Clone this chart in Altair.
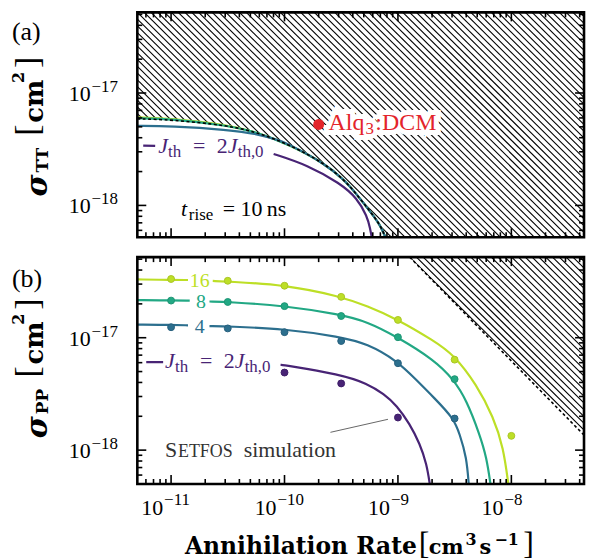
import altair as alt
import pandas as pd

# ---------------- data ----------------
X_DOMAIN = [5.04e-12, 4.37e-8]
YA_DOMAIN = [5.21e-19, 5.21e-17]
YB_DOMAIN = [5.0e-19, 5.21e-17]
Y_FLOOR = 1e-20  # lower edge of the white cover polygons (below both panels)

# panel (a): upper bound (dashed) of the hatched, forbidden region
a_bound_x = [5.04e-12, 1.0e-11, 3.16e-11, 5.79e-11, 1.13e-10, 2.24e-10, 3.36e-10, 4.37e-10,
             5.68e-10, 6.95e-10, 7.69e-10, 8.02e-10]
a_bound_y = [5.89e-18, 5.79e-18, 5.15e-18, 4.46e-18, 3.44e-18, 2.37e-18, 1.69e-18, 1.24e-18,
             8.85e-19, 6.75e-19, 5.32e-19, 4.8e-19]
a_j16_y_start = [6.07e-18, 5.94e-18, 5.19e-18]
a_j8_y_start = [5.97e-18, 5.89e-18, 5.15e-18]
a_j4_x_start = [5.04e-12, 1.0e-11, 3.16e-11, 5.79e-11, 9.23e-11]
a_j4_y_start = [5.11e-18, 5.08e-18, 4.71e-18, 4.33e-18, 3.77e-18]
a_j2_seg1_x = [5.68e-12, 7.24e-12]
a_j2_seg1_y = [3.40e-18, 3.38e-18]
a_j2_seg2_x = [8.02e-11, 1.59e-10, 3.10e-10, 4.37e-10, 5.35e-10, 5.68e-10, 5.92e-10]
a_j2_seg2_y = [2.87e-18, 2.29e-18, 1.57e-18, 1.16e-18, 8.0e-19, 6.3e-19, 5.0e-19]
alq_x, alq_y = [2.0e-10], [5.25e-18]

# panel (b): curves for J_th = 2, 4, 8, 16 J_th,0
b16_x1, b16_y1 = [5.04e-12, 1.0e-11, 1.41e-11], [3.30e-17, 3.27e-17, 3.26e-17]
b16_x2 = [2.33e-11, 3.16e-11, 1.0e-10, 3.10e-10, 5.35e-10, 9.79e-10, 2.07e-9, 3.10e-9, 4.93e-9,
          6.95e-9, 8.51e-9, 9.45e-9]
b16_y2 = [3.20e-17, 3.16e-17, 2.96e-17, 2.34e-17, 1.91e-17, 1.47e-17, 9.40e-18, 7.08e-18, 3.84e-18,
          1.96e-18, 1.06e-18, 4.8e-19]
b8_x1, b8_y1 = [5.04e-12, 1.0e-11, 1.46e-11], [2.16e-17, 2.15e-17, 2.14e-17]
b8_x2 = [2.18e-11, 3.16e-11, 1.0e-10, 3.10e-10, 5.35e-10, 9.79e-10, 2.07e-9, 3.10e-9, 4.03e-9,
         5.24e-9, 6.04e-9, 6.58e-9]
b8_y2 = [2.10e-17, 2.08e-17, 1.93e-17, 1.61e-17, 1.39e-17, 1.02e-17, 6.38e-18, 4.25e-18, 2.77e-18,
         1.39e-18, 8.67e-19, 4.8e-19]
b4_x1, b4_y1 = [5.04e-12, 1.0e-11, 1.41e-11], [1.31e-17, 1.30e-17, 1.29e-17]
b4_x2 = [2.18e-11, 3.16e-11, 1.0e-10, 3.10e-10, 5.35e-10, 9.79e-10, 1.47e-9, 2.07e-9, 3.10e-9,
         3.50e-9, 4.03e-9, 4.22e-9]
b4_y2 = [1.27e-17, 1.26e-17, 1.20e-17, 1.02e-17, 8.85e-18, 6.25e-18, 4.16e-18, 2.94e-18, 1.92e-18,
         1.39e-18, 8.67e-19, 4.8e-19]
b2_x1, b2_y1 = [6.04e-12, 8.51e-12], [6.07e-18, 6.06e-18]
b2_x2 = [9.23e-11, 1.0e-10, 3.10e-10, 5.35e-10, 7.53e-10, 9.79e-10, 1.27e-9, 1.56e-9, 1.79e-9, 1.92e-9]
b2_y2 = [5.73e-18, 5.71e-18, 4.71e-18, 3.92e-18, 3.15e-18, 2.49e-18, 1.71e-18, 1.14e-18, 7.57e-19, 4.8e-19]

# panel (b): SETFOS simulation points
sim_x = [1.0e-11, 3.16e-11, 1.0e-10, 3.16e-10, 1.0e-9, 3.16e-9, 1.0e-8]
sim16 = [3.33e-17, 3.21e-17, 2.90e-17, 2.31e-17, 1.44e-17, 6.38e-18, 1.34e-18]
sim8 = [2.14e-17, 2.08e-17, 1.91e-17, 1.56e-17, 1.01e-17, 4.28e-18]
sim4 = [1.24e-17, 1.21e-17, 1.12e-17, 9.35e-18, 5.93e-18, 1.91e-18]
sim2_x = [1.0e-10, 3.16e-10, 1.0e-9]
sim2 = [4.90e-18, 3.92e-18, 1.95e-18]

# panel (b): dashed limit line and cover polygon
b_bound_x = [1.27e-9, 4.37e-8]
b_bound_y = [5.21e-17, 1.36e-18]
b_cover_x = [5.04e-12, 1.27e-9, 4.37e-8]
b_cover_y = [6.0e-17, 5.21e-17, 1.36e-18]

# annotation pointer
ann_x = [2.54e-10, 8.17e-10]
ann_y = [1.44e-18, 1.88e-18]

# ticks
x_major = [1e-11, 1e-10, 1e-9, 1e-8]
x_major_exp = ["\u221211", "\u221210", "\u22129", "\u22128"]
y_major = [1e-18, 1e-17]
y_major_exp = ["\u221218", "\u221217"]
x_minor = [m * 10.0 ** e for e in (-12, -11, -10, -9, -8) for m in range(2, 10)
           if X_DOMAIN[0] * 1.01 < m * 10.0 ** e < X_DOMAIN[1] * 0.99]
y_minor = [m * 10.0 ** e for e in (-19, -18, -17) for m in range(2, 10)
           if YA_DOMAIN[0] * 1.01 < m * 10.0 ** e < YA_DOMAIN[1] * 0.99]

# hatch pattern intercepts: log10(x) + log10(y) = c
hatch_c = [-29.8 + 0.06 * i for i in range(106)]

# ---------------- style ----------------
W, HA, HB = 449, 226, 228
SERIF = "Liberation Serif, Times New Roman, serif"
BOLD = "DejaVu Serif, serif"
C2, C4, C8, C16 = "#482475", "#2c6f8e", "#22a884", "#bddf26"
P2, P4, P8, P16 = "#3d1c68", "#265f7c", "#1d9473", "#a9c526"
RED = "#e3242b"
ONE = pd.DataFrame({"a": [0]})
CURVE = "basis"


def X(f):
    return alt.X(f, type="quantitative", scale=alt.Scale(type="log", domain=X_DOMAIN), axis=None)


def Y(f, dom):
    return alt.Y(f, type="quantitative", scale=alt.Scale(type="log", domain=dom), axis=None,
                 stack=None)


def line_layer(segments, dom, color, width=2.2, dash=None, interp=CURVE):
    rows = []
    for i, (xs_, ys_) in enumerate(segments):
        for a, b in zip(xs_, ys_):
            rows.append({"x": a, "y": b, "seg": i})
    kw = dict(color=color, strokeWidth=width, clip=True, interpolate=interp)
    if dash:
        kw["strokeDash"] = dash
    return alt.Chart(pd.DataFrame(rows)).mark_line(**kw).encode(
        x=X("x"), y=Y("y", dom), detail="seg:N")


def cover_layer(xv, yv, dom, interp=CURVE):
    df = pd.DataFrame({"x": xv, "y": yv, "y0": [Y_FLOOR] * len(xv)})
    return alt.Chart(df).mark_area(color="white", fill="white", opacity=1, clip=True,
                                   interpolate=interp).encode(
        x=X("x"), y=Y("y", dom), y2="y0")


def points_layer(xv, yv, dom, fill, stroke, size=48):
    return alt.Chart(pd.DataFrame({"x": xv, "y": yv})).mark_point(
        filled=True, size=size, fill=fill, stroke=stroke, strokeWidth=1, opacity=1
    ).encode(x=X("x"), y=Y("y", dom))


def texts_at(x, y, dom, pieces, color, halo=0):
    df = pd.DataFrame({"x": [x], "y": [y]})
    out = []
    passes = ([True] if halo else []) + [False]
    for h in passes:
        for p in pieces:
            text, dx, dy, size = p[:4]
            style = p[4] if len(p) > 4 else "normal"
            kw = dict(text=text, dx=dx, dy=dy, fontSize=size, font=SERIF, fontStyle=style,
                      align="left", baseline="alphabetic")
            if h:
                kw.update(color="white", stroke="white", strokeWidth=halo)
            else:
                kw.update(color=color)
            out.append(alt.Chart(df).mark_text(**kw).encode(x=X("x"), y=Y("y", dom)))
    return out


def ptext(px, py, text, size, font=SERIF, weight="normal", style="normal", angle=0,
          align="left", color="black"):
    return alt.Chart(ONE).mark_text(
        text=text, fontSize=size, font=font, fontWeight=weight, fontStyle=style, angle=angle,
        align=align, baseline="alphabetic", color=color
    ).encode(x=alt.value(px), y=alt.value(py))


def hatch_layer(dom):
    df = pd.DataFrame({
        "x1": [1e-13] * len(hatch_c),
        "y1": [10 ** (c + 13) for c in hatch_c],
        "x2": [1e-6] * len(hatch_c),
        "y2": [10 ** (c + 6) for c in hatch_c],
    })
    return alt.Chart(df).mark_rule(color="black", strokeWidth=1.1, clip=True).encode(
        x=X("x1"), x2="x2", y=Y("y1", dom), y2="y2")


def tick_layers(H, dom):
    out = []
    for vals, L in ((x_major, 9), (x_minor, 5)):
        base = alt.Chart(pd.DataFrame({"v": vals})).mark_rule(color="black", strokeWidth=1.6)
        out.append(base.encode(x=X("v"), y=alt.value(H), y2=alt.value(H - L)))
        out.append(base.encode(x=X("v"), y=alt.value(0), y2=alt.value(L)))
    for vals, L in ((y_major, 9), (y_minor, 5)):
        base = alt.Chart(pd.DataFrame({"v": vals})).mark_rule(color="black", strokeWidth=1.6)
        out.append(base.encode(y=Y("v", dom), x=alt.value(0), x2=alt.value(L)))
        out.append(base.encode(y=Y("v", dom), x=alt.value(W), x2=alt.value(W - L)))
    frame = alt.Chart(ONE).mark_rect(fill="transparent", stroke="black", strokeWidth=2.6).encode(
        x=alt.value(0), x2=alt.value(W), y=alt.value(0), y2=alt.value(H))
    out.append(frame)
    return out


def ylabel_layers(dom):
    df = pd.DataFrame({"v": y_major, "e": y_major_exp})
    return [
        alt.Chart(df).mark_text(text="10", align="right", baseline="alphabetic", dy=8,
                                fontSize=22, font=SERIF, color="black").encode(
            y=Y("v", dom), x=alt.value(-47)),
        alt.Chart(df).mark_text(align="left", baseline="alphabetic", dy=-1,
                                fontSize=17, font=SERIF, color="black").encode(
            y=Y("v", dom), x=alt.value(-46), text="e:N"),
    ]


def ytitle_layers(sub, off):
    return [
        ptext(-91, 185 + off, "\u03c3", 30, font=BOLD, weight="bold", style="italic", angle=270),
        ptext(-90, 161 + off, sub, 17, font=BOLD, weight="bold", angle=270),
        ptext(-100, 124 + off, "[", 34, angle=270),
        ptext(-95, 111 + off, "cm", 26, font=BOLD, weight="bold", angle=270),
        ptext(-114, 71 + off, "2", 16, font=BOLD, weight="bold", angle=270),
        ptext(-100, 56 + off, "]", 34, angle=270),
    ]


def jlabel(x, y, dom):
    return texts_at(x, y, dom, [("J", 0, 0, 22, "italic"), ("th", 10, 4, 17), ("=", 35, 0, 22),
                                ("2", 59, 0, 22), ("J", 70, 0, 22, "italic"), ("th,0", 80, 4, 17)], C2)


# ---------------- panel (a) ----------------
layers_a = [
    hatch_layer(YA_DOMAIN),
    cover_layer(a_bound_x, a_bound_y, YA_DOMAIN),
    line_layer([(a_bound_x[:3] + a_bound_x[3:], a_j16_y_start + a_bound_y[3:])], YA_DOMAIN, C16),
    line_layer([(a_bound_x[:3] + a_bound_x[3:], a_j8_y_start + a_bound_y[3:])], YA_DOMAIN, C8),
    line_layer([(a_j4_x_start + a_bound_x[4:], a_j4_y_start + a_bound_y[4:])], YA_DOMAIN, C4),
    line_layer([(a_j2_seg1_x, a_j2_seg1_y), (a_j2_seg2_x, a_j2_seg2_y)], YA_DOMAIN, C2),
    line_layer([(a_bound_x, a_bound_y)], YA_DOMAIN, "black", width=1.6, dash=[3, 2.5]),
]
layers_a += texts_at(alq_x[0], alq_y[0], YA_DOMAIN,
                     [("Alq", 10, 5.6, 24), ("3", 47, 10, 17), (":DCM", 57, 5.6, 24)], RED, halo=10)
layers_a.append(alt.Chart(pd.DataFrame({"x": alq_x, "y": alq_y})).mark_circle(
    size=120, color=RED, opacity=1).encode(x=X("x"), y=Y("y", YA_DOMAIN)))
layers_a += jlabel(7.69e-12, 2.90e-18, YA_DOMAIN)
layers_a += texts_at(1.22e-11, 8.0e-19, YA_DOMAIN,
                     [("t", 0, 0, 22, "italic"), ("rise", 8, 4, 17), ("= 10\u2009ns", 42, 0, 22)], "black")
layers_a += tick_layers(HA, YA_DOMAIN)
layers_a += ylabel_layers(YA_DOMAIN)
layers_a += ytitle_layers("TT", 0)
layers_a.append(ptext(-126, 28, "(a)", 26))

panel_a = alt.layer(*layers_a).properties(width=W, height=HA)

# ---------------- panel (b) ----------------
layers_b = [
    hatch_layer(YB_DOMAIN),
    cover_layer(b_cover_x, b_cover_y, YB_DOMAIN, interp="linear"),
    line_layer([(b_bound_x, b_bound_y)], YB_DOMAIN, "black", width=1.6, dash=[3, 2.5], interp="linear"),
    line_layer([(b2_x1, b2_y1), (b2_x2, b2_y2)], YB_DOMAIN, C2),
    line_layer([(b4_x1, b4_y1), (b4_x2, b4_y2)], YB_DOMAIN, C4),
    line_layer([(b8_x1, b8_y1), (b8_x2, b8_y2)], YB_DOMAIN, C8),
    line_layer([(b16_x1, b16_y1), (b16_x2, b16_y2)], YB_DOMAIN, C16),
    points_layer(sim2_x, sim2, YB_DOMAIN, C2, P2),
    points_layer(sim_x[:6], sim4, YB_DOMAIN, C4, P4),
    points_layer(sim_x[:6], sim8, YB_DOMAIN, C8, P8),
    points_layer(sim_x, sim16, YB_DOMAIN, C16, P16),
    alt.Chart(pd.DataFrame({"x": ann_x, "y": ann_y})).mark_line(color="#666666", strokeWidth=1).encode(
        x=X("x"), y=Y("y", YB_DOMAIN)),
]
for lab, lx, ly, col in (("16", 1.79e-11, 3.25e-17, C16), ("8", 1.83e-11, 2.12e-17, C8),
                         ("4", 1.79e-11, 1.28e-17, C4)):
    layers_b.append(alt.Chart(pd.DataFrame({"x": [lx], "y": [ly]})).mark_text(
        text=lab, align="center", baseline="alphabetic", dy=7, fontSize=20, font=SERIF, color=col
    ).encode(x=X("x"), y=Y("y", YB_DOMAIN)))
layers_b += jlabel(8.85e-12, 5.43e-18, YB_DOMAIN)
layers_b += texts_at(8.85e-12, 8.67e-19, YB_DOMAIN,
                     [("S", 0, 0, 22), ("ETFOS", 13, 0, 18), ("simulation", 79, 0, 22)], "#333333")
layers_b += tick_layers(HB, YB_DOMAIN)
layers_b += ylabel_layers(YB_DOMAIN)
layers_b += ytitle_layers("PP", -3)
layers_b.append(ptext(-126, 30, "(b)", 26))

xlab = pd.DataFrame({"v": x_major, "e": x_major_exp})
layers_b += [
    alt.Chart(xlab).mark_text(text="10", align="right", baseline="alphabetic", dx=-8,
                              fontSize=22, font=SERIF, color="black").encode(
        x=X("v"), y=alt.value(HB + 31)),
    alt.Chart(xlab).mark_text(align="left", baseline="alphabetic", dx=-7,
                              fontSize=17, font=SERIF, color="black").encode(
        x=X("v"), y=alt.value(HB + 21), text="e:N"),
]
layers_b += [
    ptext(281, 298, "Annihilation Rate", 23.5, font=BOLD, weight="bold", align="right"),
    ptext(283, 298, "[", 32),
    ptext(293, 298, "cm", 21, font=BOLD, weight="bold"),
    ptext(330, 289, "3", 16, font=BOLD, weight="bold"),
    ptext(344, 298, "s", 21, font=BOLD, weight="bold"),
    ptext(359, 289, "\u22121", 16, font=BOLD, weight="bold"),
    ptext(388, 298, "]", 32),
]

panel_b = alt.layer(*layers_b).properties(width=W, height=HB)

chart = alt.vconcat(panel_a, panel_b, spacing=16).properties(
    padding={"left": 3, "top": 1, "right": 0, "bottom": 0}
).configure_view(stroke=None)

chart.save("out.html", embed_options={"renderer": "svg", "actions": False})
